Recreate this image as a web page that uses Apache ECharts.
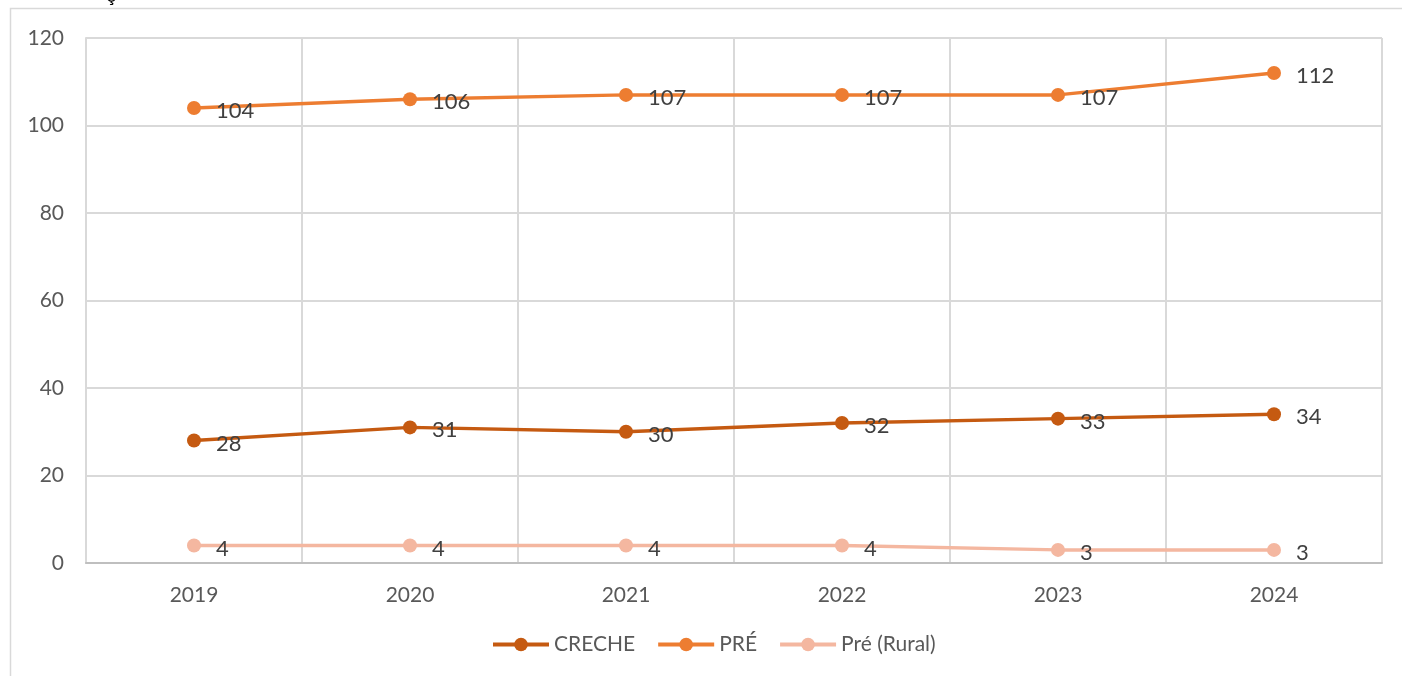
<!DOCTYPE html>
<html>
<head>
<meta charset="utf-8">
<script src="https://cdn.jsdelivr.net/npm/echarts@6/dist/echarts.min.js"></script>
<style>
  html, body { margin: 0; padding: 0; background: #fff; }
  #chart { width: 1402px; height: 676px; }
</style>
</head>
<body>
<div id="chart"></div>
<script>
// dados do gráfico
var anos = ['2019', '2020', '2021', '2022', '2023', '2024'];
var creche = [28, 31, 30, 32, 33, 34];
var pre = [104, 106, 107, 107, 107, 112];
var preRural = [4, 4, 4, 4, 3, 3];
var yTicks = { min: 0, max: 120, interval: 20 };

var myChart = echarts.init(document.getElementById('chart'));

function serie(nome, dados, cor) {
  return {
    name: nome,
    type: 'line',
    data: dados,
    symbol: 'circle',
    symbolSize: 14,
    lineStyle: { color: cor, width: 3.5 },
    itemStyle: { color: cor },
    label: {
      show: true,
      position: 'right',
      distance: 15,
      offset: [0, 3],
      color: '#404040',
      fontSize: 22,
      fontFamily: 'Lato'
    }
  };
}

var option = {
  animation: false,
  textStyle: { fontFamily: 'Lato' },
  graphic: [
    {
      type: 'rect',
      shape: { x: 10.5, y: 8.5, width: 1420, height: 700 },
      style: { fill: 'none', stroke: '#D9D9D9', lineWidth: 1.5 },
      silent: true
    },
    {
      type: 'text',
      left: 106,
      top: -14,
      style: { text: 'ç', fontSize: 20, fill: '#000', fontFamily: 'Lato' }
    }
  ],
  grid: { left: 86, right: 20, top: 38, bottom: 113 },
  legend: {
    bottom: 16,
    left: 486,
    itemWidth: 56,
    itemHeight: 17,
    itemGap: 21,
    lineStyle: { width: 4 },
    textStyle: { color: '#595959', fontSize: 21, fontFamily: 'Lato' },
    data: ['CRECHE', 'PRÉ', 'Pré (Rural)']
  },
  xAxis: {
    type: 'category',
    data: anos,
    boundaryGap: true,
    axisLine: { lineStyle: { color: '#BFBFBF', width: 2 } },
    axisTick: { show: false },
    splitLine: { show: true, lineStyle: { color: '#D9D9D9', width: 2 } },
    axisLabel: { color: '#595959', fontSize: 21, margin: 22, fontFamily: 'Lato' }
  },
  yAxis: {
    type: 'value',
    min: yTicks.min,
    max: yTicks.max,
    interval: yTicks.interval,
    axisLine: { show: true, lineStyle: { color: '#D9D9D9', width: 2 } },
    axisTick: { show: false },
    splitLine: { lineStyle: { color: '#D9D9D9', width: 2 } },
    axisLabel: { color: '#595959', fontSize: 21, margin: 22, fontFamily: 'Lato' }
  },
  series: [
    serie('CRECHE', creche, '#C55A11'),
    serie('PRÉ', pre, '#ED7D31'),
    serie('Pré (Rural)', preRural, '#F4B7A0')
  ]
};

myChart.setOption(option, true);
</script>
</body>
</html>
